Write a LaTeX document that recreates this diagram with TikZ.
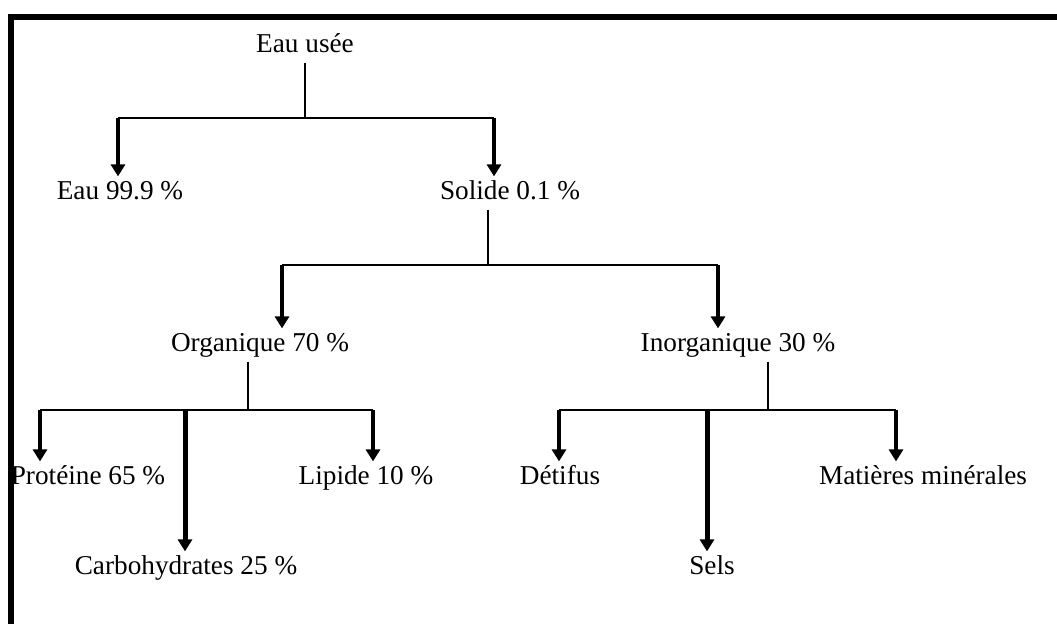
\documentclass[tikz,border=0pt]{standalone}
\usepackage{fontspec}
\setmainfont{Liberation Serif}
\usetikzlibrary{arrows.meta}
\begin{document}
\begin{tikzpicture}[x=0.02cm, y=-0.02cm,
		every node/.style={font=\fontsize{15.5}{18}\selectfont, inner sep=2pt,
			text height=11pt, text depth=3.5pt},
		stem/.style={line width=0.035cm},
		leg/.style={line width=0.065cm, -{Triangle[width=0.28cm,length=0.24cm]}},
		bigleg/.style={line width=0.1cm, -{Triangle[width=0.28cm,length=0.24cm]}}]
		\useasboundingbox (0,0) rectangle (1057,624);
		
		\node (usee) at (305,46) {Eau usée};
		\node (eau) at (120,193) {Eau 99.9 \%};
		\node (solide) at (510,193) {Solide 0.1 \%};
		\node (org) at (260,345) {Organique 70 \%};
		\node (inorg) at (738,345) {Inorganique 30 \%};
		\node (prot) at (88,478) {Protéine 65 \%};
		\node (carb) at (186,568) {Carbohydrates 25 \%};
		\node (lip) at (366,478) {Lipide 10 \%};
		\node (detr) at (560,478) {Détifus};
		\node (sels) at (712,568) {Sels};
		\node (mat) at (923,478) {Matières minérales};
		
		\coordinate (j1) at (305,118);
		\coordinate (j1l) at (118,118);
		\coordinate (j1r) at (494,118);
		\coordinate (j2) at (488,265);
		\coordinate (j2l) at (282,265);
		\coordinate (j2r) at (718,265);
		\coordinate (j3) at (248,410);
		\coordinate (j3l) at (40,410);
		\coordinate (j3m) at (185,410);
		\coordinate (j3r) at (373,410);
		\coordinate (j4) at (768,410);
		\coordinate (j4l) at (559,410);
		\coordinate (j4m) at (707,410);
		\coordinate (j4r) at (896,410);
		
		\draw[stem] (usee.south) -- (j1);
		\draw[stem] (j1l) -- (j1r);
		\draw[leg] (j1l) -- (j1l |- eau.north);
		\draw[leg] (j1r) -- (j1r |- solide.north);
		
		\draw[stem] (solide.south -| j2) -- (j2);
		\draw[stem] (j2l) -- (j2r);
		\draw[leg] (j2l) -- (j2l |- org.north);
		\draw[leg] (j2r) -- (j2r |- inorg.north);
		
		\draw[stem] (org.south -| j3) -- (j3);
		\draw[stem] (j3l) -- (j3r);
		\draw[leg] (j3l) -- (j3l |- prot.north);
		\draw[bigleg] (j3m) -- (j3m |- carb.north);
		\draw[leg] (j3r) -- (j3r |- lip.north);
		
		\draw[stem] (inorg.south -| j4) -- (j4);
		\draw[stem] (j4l) -- (j4r);
		\draw[leg] (j4l) -- (j4l |- detr.north);
		\draw[bigleg] (j4m) -- (j4m |- sels.north);
		\draw[leg] (j4r) -- (j4r |- mat.north);
		
		\draw[line width=0.12cm] (11,640) -- (11,17) -- (1070,17);
\end{tikzpicture}
\end{document}
